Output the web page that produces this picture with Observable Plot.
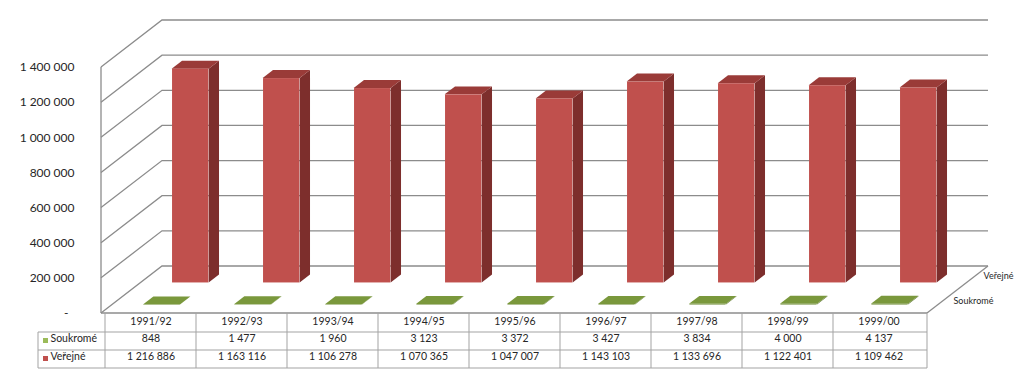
<!DOCTYPE html>
<html>
<head>
<meta charset="utf-8">
<script src="https://cdn.jsdelivr.net/npm/d3@7"></script>
<script src="https://cdn.jsdelivr.net/npm/@observablehq/plot@0.6"></script>
<style>
  html, body { margin: 0; padding: 0; background: #fff; }
  #chart svg { display: block; }
</style>
</head>
<body>
<div id="chart"></div>
<script>
// ---------- data ----------
const categories = ["1991/92", "1992/93", "1993/94", "1994/95", "1995/96", "1996/97", "1997/98", "1998/99", "1999/00"];
const soukrome = [848, 1477, 1960, 3123, 3372, 3427, 3834, 4000, 4137];
const verejne = [1216886, 1163116, 1106278, 1070365, 1047007, 1143103, 1133696, 1122401, 1109462];
const seriesNames = ["Soukromé", "Veřejné"];
const yTicks = [0, 200000, 400000, 600000, 800000, 1000000, 1200000, 1400000];

// ---------- styling / geometry ----------
const colors = {
  "Soukromé": {front: "#6f8c36", top: "#7a983c", side: "#5d7530"},
  "Veřejné": {front: "#c0504d", top: "#9a3b38", side: "#7d2e2c"}
};
const DX = 61, DY = 47;            // full depth vector of the 3D box (px)
const rowDepth = {"Soukromé": [0.18, 0.35], "Veřejné": [0.65, 0.82]};
const barW = 37;
const gridColor = "#8c8c8c";
const tableColor = "#a3a3a3";
const textColor = "#262626";

const fmt = d3.formatLocale({decimal: ",", thousands: " ", grouping: [3], currency: ["", ""]}).format(",d");

const rows = categories.flatMap((c, i) => [
  {year: c, series: seriesNames[0], value: soukrome[i]},
  {year: c, series: seriesNames[1], value: verejne[i]}
]);

function bandwidth(scales) {
  return scales.x(categories[1]) - scales.x(categories[0]);
}

// walls and floor
function walls(index, scales, values, dims) {
  const x0 = dims.marginLeft, x1 = dims.width - dims.marginRight;
  const y0 = scales.y(0);
  const g = d3.create("svg:g").attr("fill", "none").attr("stroke", gridColor).attr("stroke-width", 1.3);
  g.append("line").attr("x1", x0).attr("x2", x0).attr("y1", y0).attr("y2", scales.y(d3.max(yTicks)));
  for (const t of yTicks) {
    const y = scales.y(t);
    g.append("polyline").attr("points", `${x0},${y} ${x0 + DX},${y - DY} ${x1 + DX},${y - DY}`);
  }
  g.append("line").attr("x1", x1).attr("y1", y0).attr("x2", x1 + DX).attr("y2", y0 - DY);
  return g.node();
}

// side and top faces of the 3D boxes for one series
function boxes(series) {
  return (index, scales, values, dims) => {
    const g = d3.create("svg:g");
    const bw = bandwidth(scales);
    const [d0, d1] = rowDepth[series];
    const ddx = (d1 - d0) * DX, ddy = (d1 - d0) * DY;
    const c = colors[series];
    for (const r of rows.filter(r => r.series === series)) {
      const cx = scales.x(r.year) + bw / 2;
      const xl = cx - barW / 2 + d0 * DX, xr = xl + barW;
      const yb = scales.y(0) - d0 * DY, yt = scales.y(r.value) - d0 * DY;
      g.append("polygon").attr("fill", c.side)
        .attr("points", `${xr},${yb} ${xr},${yt} ${xr + ddx},${yt - ddy} ${xr + ddx},${yb - ddy}`);
      g.append("polygon").attr("fill", c.top)
        .attr("points", `${xl},${yt} ${xr},${yt} ${xr + ddx},${yt - ddy} ${xl + ddx},${yt - ddy}`);
    }
    return g.node();
  };
}

function fronts(series) {
  const d0 = rowDepth[series][0];
  return Plot.barY(rows.filter(r => r.series === series), {
    x: "year", y: "value", fill: colors[series].front,
    insetLeft: (91.78 - barW) / 2, insetRight: (91.78 - barW) / 2,
    dx: d0 * DX, dy: -d0 * DY
  });
}

// data table grid
function tableGrid(index, scales, values, dims) {
  const x0 = dims.marginLeft, x1 = dims.width - dims.marginRight;
  const y0 = scales.y(0);
  const left = 38;
  const g = d3.create("svg:g").attr("fill", "none").attr("stroke", tableColor).attr("stroke-width", 1);
  g.append("line").attr("x1", x0).attr("x2", x1).attr("y1", y0).attr("y2", y0).attr("stroke", gridColor).attr("stroke-width", 1.3);
  for (const dy of [19, 37, 55]) {
    g.append("line").attr("x1", left).attr("x2", x1).attr("y1", y0 + dy).attr("y2", y0 + dy);
  }
  const xs = categories.map(c => scales.x(c)).concat([x1]);
  for (const x of xs) g.append("line").attr("x1", x).attr("x2", x).attr("y1", y0).attr("y2", y0 + 55);
  g.append("line").attr("x1", left).attr("x2", left).attr("y1", y0 + 19).attr("y2", y0 + 55);
  // legend swatches
  seriesNames.forEach((s, i) => {
    g.append("rect").attr("x", 43).attr("y", y0 + 25 + i * 18).attr("width", 5).attr("height", 5)
      .attr("stroke", "none").attr("fill", s === "Soukromé" ? "#9bbb59" : "#c0504d");
  });
  return g.node();
}

const chart = Plot.plot({
  width: 1024,
  height: 383,
  marginLeft: 101,
  marginRight: 97,
  marginTop: 67,
  marginBottom: 70,
  x: {type: "band", domain: categories, padding: 0, axis: null},
  y: {domain: [0, 1400000], label: null},
  style: {fontFamily: "Lato, 'Open Sans', sans-serif", color: textColor, background: "#fff", overflow: "visible"},
  marks: [
    walls,
    boxes("Veřejné"),
    fronts("Veřejné"),
    boxes("Soukromé"),
    fronts("Soukromé"),
    Plot.axisY(yTicks, {
      tickSize: 0, tickPadding: 27, fontSize: 12, label: null,
      tickFormat: d => d === 0 ? "-\u00a0\u00a0" : fmt(d)
    }),
    tableGrid,
    // table header
    Plot.text(categories, {x: d => d, frameAnchor: "bottom", dy: 11, fontSize: 10.5, fill: textColor}),
    Plot.text(soukrome, {x: (d, i) => categories[i], text: d => fmt(d), frameAnchor: "bottom", dy: 28, fontSize: 10.5, fill: textColor}),
    Plot.text(verejne, {x: (d, i) => categories[i], text: d => fmt(d), frameAnchor: "bottom", dy: 46, fontSize: 10.5, fill: textColor}),
    // legend column text
    Plot.text([seriesNames[0]], {frameAnchor: "bottom-left", dx: -51, dy: 28, textAnchor: "start", fontSize: 10.5, fill: textColor}),
    Plot.text([seriesNames[1]], {frameAnchor: "bottom-left", dx: -51, dy: 46, textAnchor: "start", fontSize: 10.5, fill: textColor}),
    // depth-axis labels
    Plot.text([seriesNames[1]], {frameAnchor: "bottom-right", dx: 56, dy: -35, textAnchor: "start", fontSize: 9, fill: textColor}),
    Plot.text([seriesNames[0]], {frameAnchor: "bottom-right", dx: 26, dy: -10, textAnchor: "start", fontSize: 9, fill: textColor})
  ]
});

document.getElementById("chart").appendChild(chart);
</script>
</body>
</html>
